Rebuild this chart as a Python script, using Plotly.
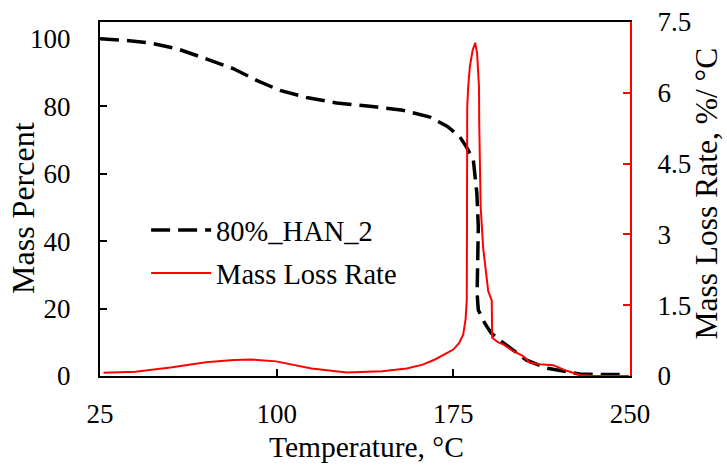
import plotly.graph_objects as go

# Thermogravimetric data: residual mass (%) vs temperature (°C)
mass_temp = [25, 35, 46, 57.6, 68.7, 81.5, 91.5, 101.4, 112.7, 125.5, 139.6, 153.6,
             165.1, 172.5, 177.8, 180.6, 183.5, 185.0, 185.6, 185.4, 185.1, 185.6,
             188.4, 191.0, 194.5, 200.4, 206.1, 214.6, 223.1, 228.7, 235.0, 248.0]
mass_percent = [100, 99.6, 98.8, 97.1, 94.4, 91.2, 87.7, 84.7, 82.6, 81.0, 80.0, 78.8,
                76.8, 74.0, 70.9, 67.9, 64.0, 54.1, 44.2, 34.4, 24.5, 19.6,
                15.6, 12.8, 10.7, 7.7, 4.7, 2.3, 1.3, 0.6, 0.5, 0.4]

# Derivative curve: mass loss rate (%/°C) vs temperature (°C)
rate_temp = [26.5, 40, 54.9, 69.9, 81.9, 89.4, 99.8, 114.8, 129.8, 144.7, 155.2, 162.0,
             167.2, 171.0, 175.0, 177.5, 179.2, 180.2, 180.7, 180.8, 180.9, 181.3,
             182.0, 183.2, 184.3, 185.1, 185.9, 186.0, 186.3, 186.6, 187.7, 189.8,
             191.3, 191.5, 194.1, 196.2, 200.4, 204.6, 207.5, 211.8, 217.4, 223.1,
             228.7, 235.0, 249.5]
rate_values = [0.07, 0.09, 0.18, 0.29, 0.34, 0.35, 0.31, 0.16, 0.075, 0.10, 0.16, 0.24,
               0.35, 0.45, 0.56, 0.70, 0.88, 1.20, 1.60, 3.30, 5.70, 6.12,
               6.55, 6.90, 7.06, 6.83, 6.12, 5.35, 4.60, 3.58, 2.70, 1.80,
               1.60, 0.81, 0.71, 0.67, 0.53, 0.42, 0.28, 0.25, 0.23, 0.11,
               0.02, 0.0, 0.0]

x_ticks = [25, 100, 175, 250]
left_ticks = [0, 20, 40, 60, 80, 100]
right_ticks = [0, 1.5, 3, 4.5, 6, 7.5]
right_tick_text = ["0", "1.5", "3", "4.5", "6", "7.5"]

x_title = "Temperature, °C"
left_title = "Mass Percent"
right_title = "Mass Loss Rate, %/ °C"

SERIF = "Liberation Serif"
TICK_FONT = dict(family=SERIF, size=27, color="black")

fig = go.Figure()
fig.add_trace(go.Scatter(
    x=mass_temp, y=mass_percent, mode="lines", name="80%_HAN_2",
    line=dict(color="black", width=3.5, dash="19px,8px"),
    legendgroup="a", yaxis="y",
))
fig.add_trace(go.Scatter(
    x=rate_temp, y=rate_values, mode="lines", name="Mass Loss Rate",
    line=dict(color="#ff0000", width=2),
    legendgroup="b", yaxis="y2",
))

# Axis titles placed as paper-anchored annotations
fig.add_annotation(text=x_title, xref="paper", yref="paper", x=0.502, y=-0.2,
                   showarrow=False, xanchor="center", yanchor="middle", borderpad=0,
                   font=dict(family=SERIF, size=29.5, color="black"))
fig.add_annotation(text=left_title, xref="paper", yref="paper", x=-0.1453, y=0.4746,
                   showarrow=False, xanchor="center", yanchor="middle", textangle=-90,
                   borderpad=0, font=dict(family=SERIF, size=32, color="black"))
fig.add_annotation(text=right_title, xref="paper", yref="paper", x=1.1453, y=0.5155,
                   showarrow=False, xanchor="center", yanchor="middle", textangle=-90,
                   borderpad=0, font=dict(family=SERIF, size=31.5, color="black"))

fig.update_layout(
    width=727, height=466,
    margin=dict(l=100, r=97, t=22, b=90, autoexpand=False),
    paper_bgcolor="white", plot_bgcolor="white",
    font=dict(family=SERIF, size=27, color="black"),
    showlegend=True,
    legend=dict(
        x=0.087, y=0.483, xanchor="left", yanchor="top",
        bgcolor="rgba(0,0,0,0)", borderwidth=0,
        font=dict(family=SERIF, size=28.5),
        itemwidth=60, tracegroupgap=3, traceorder="grouped",
    ),
    xaxis=dict(
        range=[25, 250], tickvals=x_ticks, ticks="inside", ticklen=7,
        tickwidth=1.5, tickcolor="black", showline=True, linecolor="black",
        linewidth=2, mirror=True, showgrid=False, zeroline=False,
        ticklabelstandoff=13, tickfont=TICK_FONT, automargin=False,
    ),
    yaxis=dict(
        range=[0, 105], tickvals=left_ticks, ticks="inside", ticklen=7,
        tickwidth=1.5, tickcolor="black", showline=True, linecolor="black",
        linewidth=2, showgrid=False, zeroline=False,
        ticklabelstandoff=22, tickfont=TICK_FONT, automargin=False,
    ),
    yaxis2=dict(
        range=[0, 7.5], tickvals=right_ticks, ticktext=right_tick_text,
        overlaying="y", side="right", ticks="inside", ticklen=7,
        tickwidth=1.5, tickcolor="#ff0000", showline=True, linecolor="#ff0000",
        linewidth=2, showgrid=False, zeroline=False,
        ticklabelstandoff=20, tickfont=TICK_FONT, automargin=False,
    ),
)

fig.write_html("out.html")
